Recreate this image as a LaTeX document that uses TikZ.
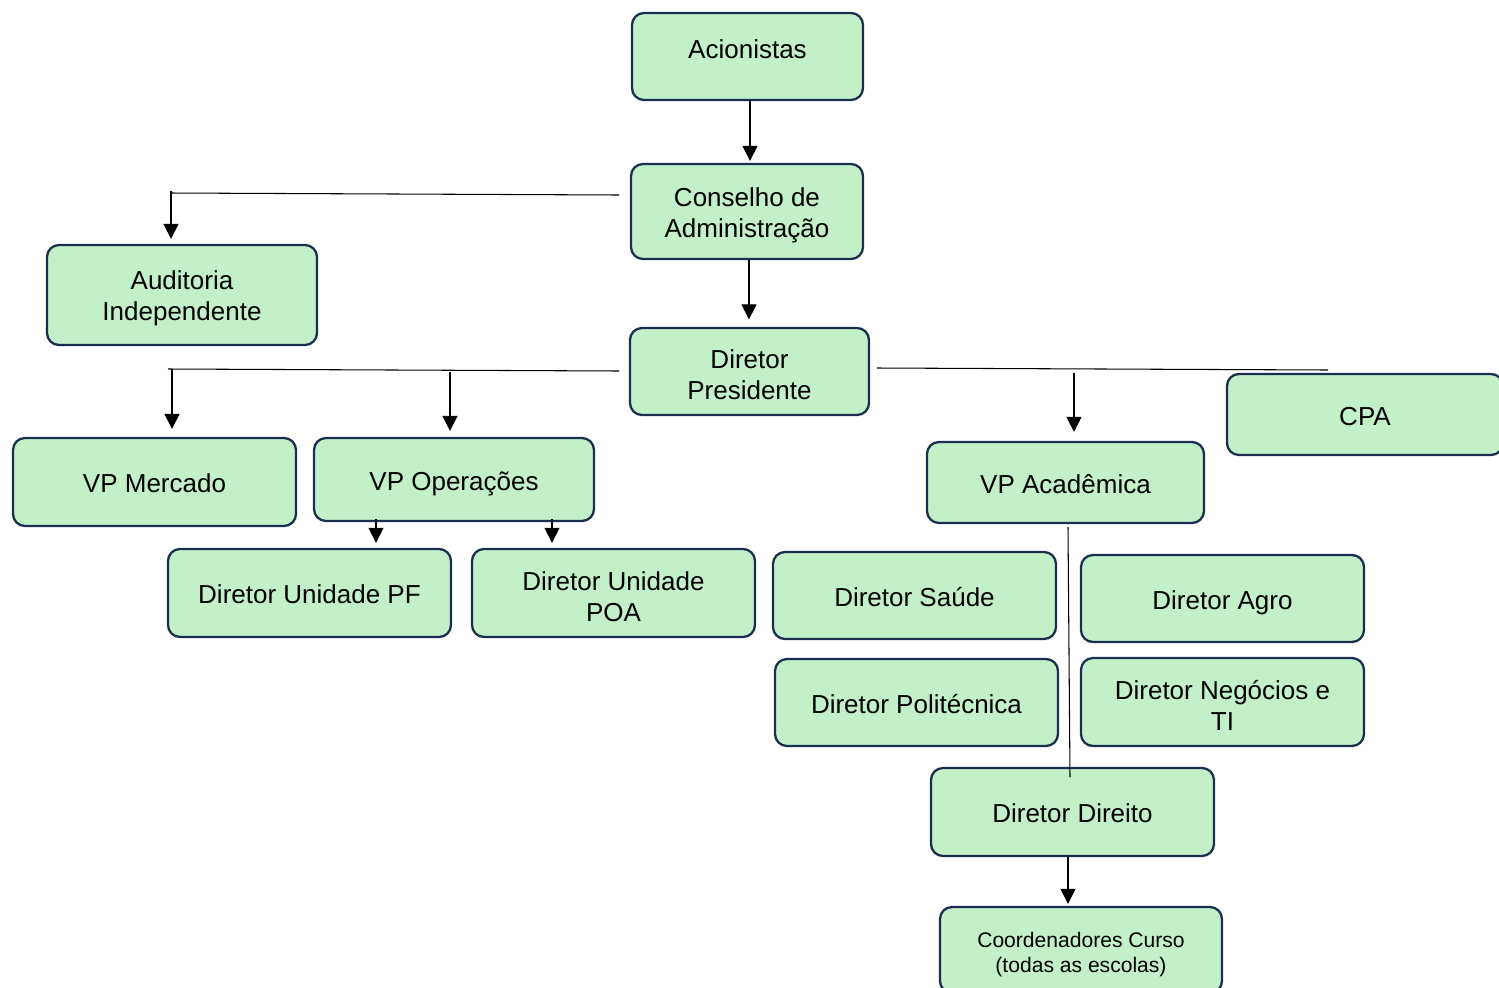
\documentclass[tikz,border=0pt]{standalone}
\usepackage{fontspec}
\setmainfont{Liberation Sans}
\usetikzlibrary{arrows.meta}
\definecolor{boxfill}{HTML}{C2F0C8}
\definecolor{boxline}{HTML}{1B2E4F}
\begin{document}
\begin{tikzpicture}[x=0.02cm,y=-0.02cm,
  orgbox/.style 2 args={draw=boxline,fill=boxfill,line width=1.3pt,rounded corners=0.24cm,
    minimum width=#1*0.02cm,minimum height=#2*0.02cm,inner sep=0pt,align=center,
    font=\fontsize{14.8}{17.6}\selectfont,
    execute at begin node={\rule{0pt}{1.04em}},
    execute at end node={\rule[-0.2em]{0pt}{0.2em}}},
  two/.style={text height=#1,text depth=0pt},
  small/.style={font=\fontsize{12}{14.2}\selectfont},
  arr/.style={line width=0.6pt,-{Triangle[width=0.3cm,length=0.3cm]}},
  ln/.style={line width=0.6pt}]
\useasboundingbox (0,0) rectangle (1499,988);
% boxes
\node[orgbox={231}{87},text depth=12.6pt] (aci) at (747.5,56.5) {Acionistas};
\node[orgbox={232}{95},two=29.4pt] (cons) at (747,211.5) {Conselho de\\Administração};
\node[orgbox={270}{100},two=29.4pt] (aud) at (182,295) {Auditoria\\Independente};
\node[orgbox={239}{87},two=32.2pt] (dp) at (749.5,371.5) {Diretor\\Presidente};
\node[orgbox={276}{81}] (cpa) at (1365,414.5) {CPA};
\node[orgbox={283}{88}] (vpm) at (154.5,482) {VP Mercado};
\node[orgbox={280}{83}] (vpo) at (454,479.5) {VP Operações};
\node[orgbox={277}{81}] (vpa) at (1065.5,482.5) {VP Acadêmica};
\node[orgbox={283}{88}] (pf) at (309.5,593) {Diretor Unidade PF};
\node[orgbox={283}{88},two=32.2pt] (poa) at (613.5,593) {Diretor Unidade\\POA};
\node[orgbox={283}{87}] (sau) at (914.5,595.5) {Diretor Saúde};
\node[orgbox={283}{87}] (agro) at (1222.5,598.5) {Diretor Agro};
\node[orgbox={283}{87}] (poli) at (916.5,702.5) {Diretor Politécnica};
\node[orgbox={283}{88},two=32.2pt] (neg) at (1222.5,702) {Diretor Negócios e\\TI};
\node[orgbox={283}{88}] (dir) at (1072.5,812) {Diretor Direito};
\node[orgbox={282}{86},small,two=25.6pt] (coord) at (1081,950) {Coordenadores Curso\\(todas as escolas)};
% connector points
\coordinate (c1) at (619,195);
\coordinate (c2) at (170,193);
\coordinate (c3) at (171,191);
\coordinate (d1) at (619,371);
\coordinate (d2) at (168,369);
\coordinate (d3) at (172,369);
\coordinate (d4) at (450,372);
\coordinate (e1) at (877,368);
\coordinate (e2) at (1328,370);
\coordinate (e3) at (1074,373);
\coordinate (o1) at (376,519);
\coordinate (o2) at (552,519);
\coordinate (v1) at (1068,527);
\coordinate (v2) at (1070,777);
% connectors
\draw[arr] (aci.south -| 750,0) -- ([yshift=0.04cm]cons.north -| 750,0);
\draw[arr] (cons.south -| 749,0) -- ([yshift=0.15cm]dp.north -| 749,0);
\draw[ln] (c1) -- (c2);
\draw[arr] (c3) -- ([yshift=0.1cm]aud.north -| c3);
\draw[ln] (d1) -- (d2);
\draw[arr] (d3) -- ([yshift=0.16cm]vpm.north -| d3);
\draw[arr] (d4) -- ([yshift=0.12cm]vpo.north -| d4);
\draw[ln] (e1) -- (e2);
\draw[arr] (e3) -- ([yshift=0.18cm]vpa.north -| e3);
\draw[arr] (o1) -- ([yshift=0.1cm]pf.north -| o1);
\draw[arr] (o2) -- ([yshift=0.1cm]poa.north -| o2);
\draw[ln] (v1) -- (v2);
\draw[arr] (dir.south -| 1068,0) -- ([yshift=0.04cm]coord.north -| 1068,0);
\end{tikzpicture}
\end{document}
